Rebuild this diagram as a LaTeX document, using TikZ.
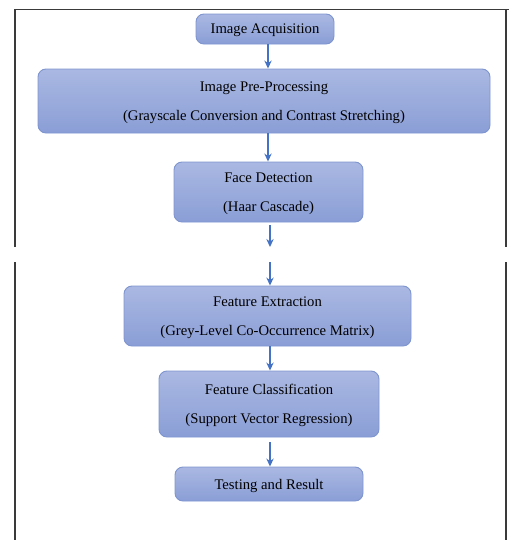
\documentclass[tikz,border=0pt]{standalone}
\usepackage{fontspec}
\setmainfont{Liberation Serif}
\usetikzlibrary{arrows.meta,positioning,calc}
\definecolor{BoxTop}{HTML}{AAB8E2}
\definecolor{BoxBot}{HTML}{8A9ED6}
\definecolor{BoxLine}{HTML}{7F95CF}
\definecolor{Flow}{HTML}{4472C4}
\definecolor{Frame}{HTML}{3A3A3A}

\begin{document}
\begin{tikzpicture}[x=0.75pt,y=-0.75pt,
  stepbox/.style={rectangle,rounded corners=6pt,draw=BoxLine,line width=0.7pt,
    top color=BoxTop,bottom color=BoxBot,align=center,inner sep=0pt,
    text depth=-2pt,font=\fontsize{11}{13}\selectfont,text=black},
  flow/.style={-{Stealth[length=6pt,width=5.5pt]},Flow,line width=1.1pt},
  frameline/.style={Frame,line width=1pt}]
\useasboundingbox (0,0) rectangle (510,540);
% page frame, split in two
\draw[frameline] (15,247) -- (15,9.5) -- (509,9.5);
\draw[frameline] (506,9.5) -- (506,247);
\draw[frameline] (15,262) -- (15,540);
\draw[frameline] (506,262) -- (506,540);
% steps
\node[stepbox,minimum width=103.5pt,minimum height=22.5pt] (acq) at (265,29) {Image Acquisition};
\node[stepbox,minimum width=339pt,minimum height=48pt] (pre) at (264,101) {Image Pre-Processing\\[9pt](Grayscale Conversion and Contrast Stretching)};
\node[stepbox,minimum width=141.75pt,minimum height=45pt] (face) at (268.5,192) {Face Detection\\[9pt](Haar Cascade)};
\node[stepbox,minimum width=215.25pt,minimum height=45pt] (feat) at (267.5,316) {Feature Extraction\\[9pt](Grey-Level Co-Occurrence Matrix)};
\node[stepbox,minimum width=165pt,minimum height=49.5pt] (cls) at (269,404) {Feature Classification\\[9pt](Support Vector Regression)};
\node[stepbox,minimum width=141pt,minimum height=25.5pt] (test) at (269,484) {Testing and Result};
% break in the flow
\coordinate (cut1) at (270,247);
\coordinate (cut2) at (270,262);
% arrows
\draw[flow] (acq.south -| 268,0) -- (pre.north -| 268,0);
\draw[flow] (pre.south -| 268,0) -- (face.north -| 268,0);
\draw[flow,shorten <=2.2pt] (face.south -| cut1) -- (cut1);
\draw[flow] (cut2) -- (feat.north -| cut2);
\draw[flow] (feat.south -| cut2) -- (cls.north -| cut2);
\draw[flow,shorten <=3.5pt] (cls.south -| cut2) -- (test.north -| cut2);
\end{tikzpicture}
\end{document}
